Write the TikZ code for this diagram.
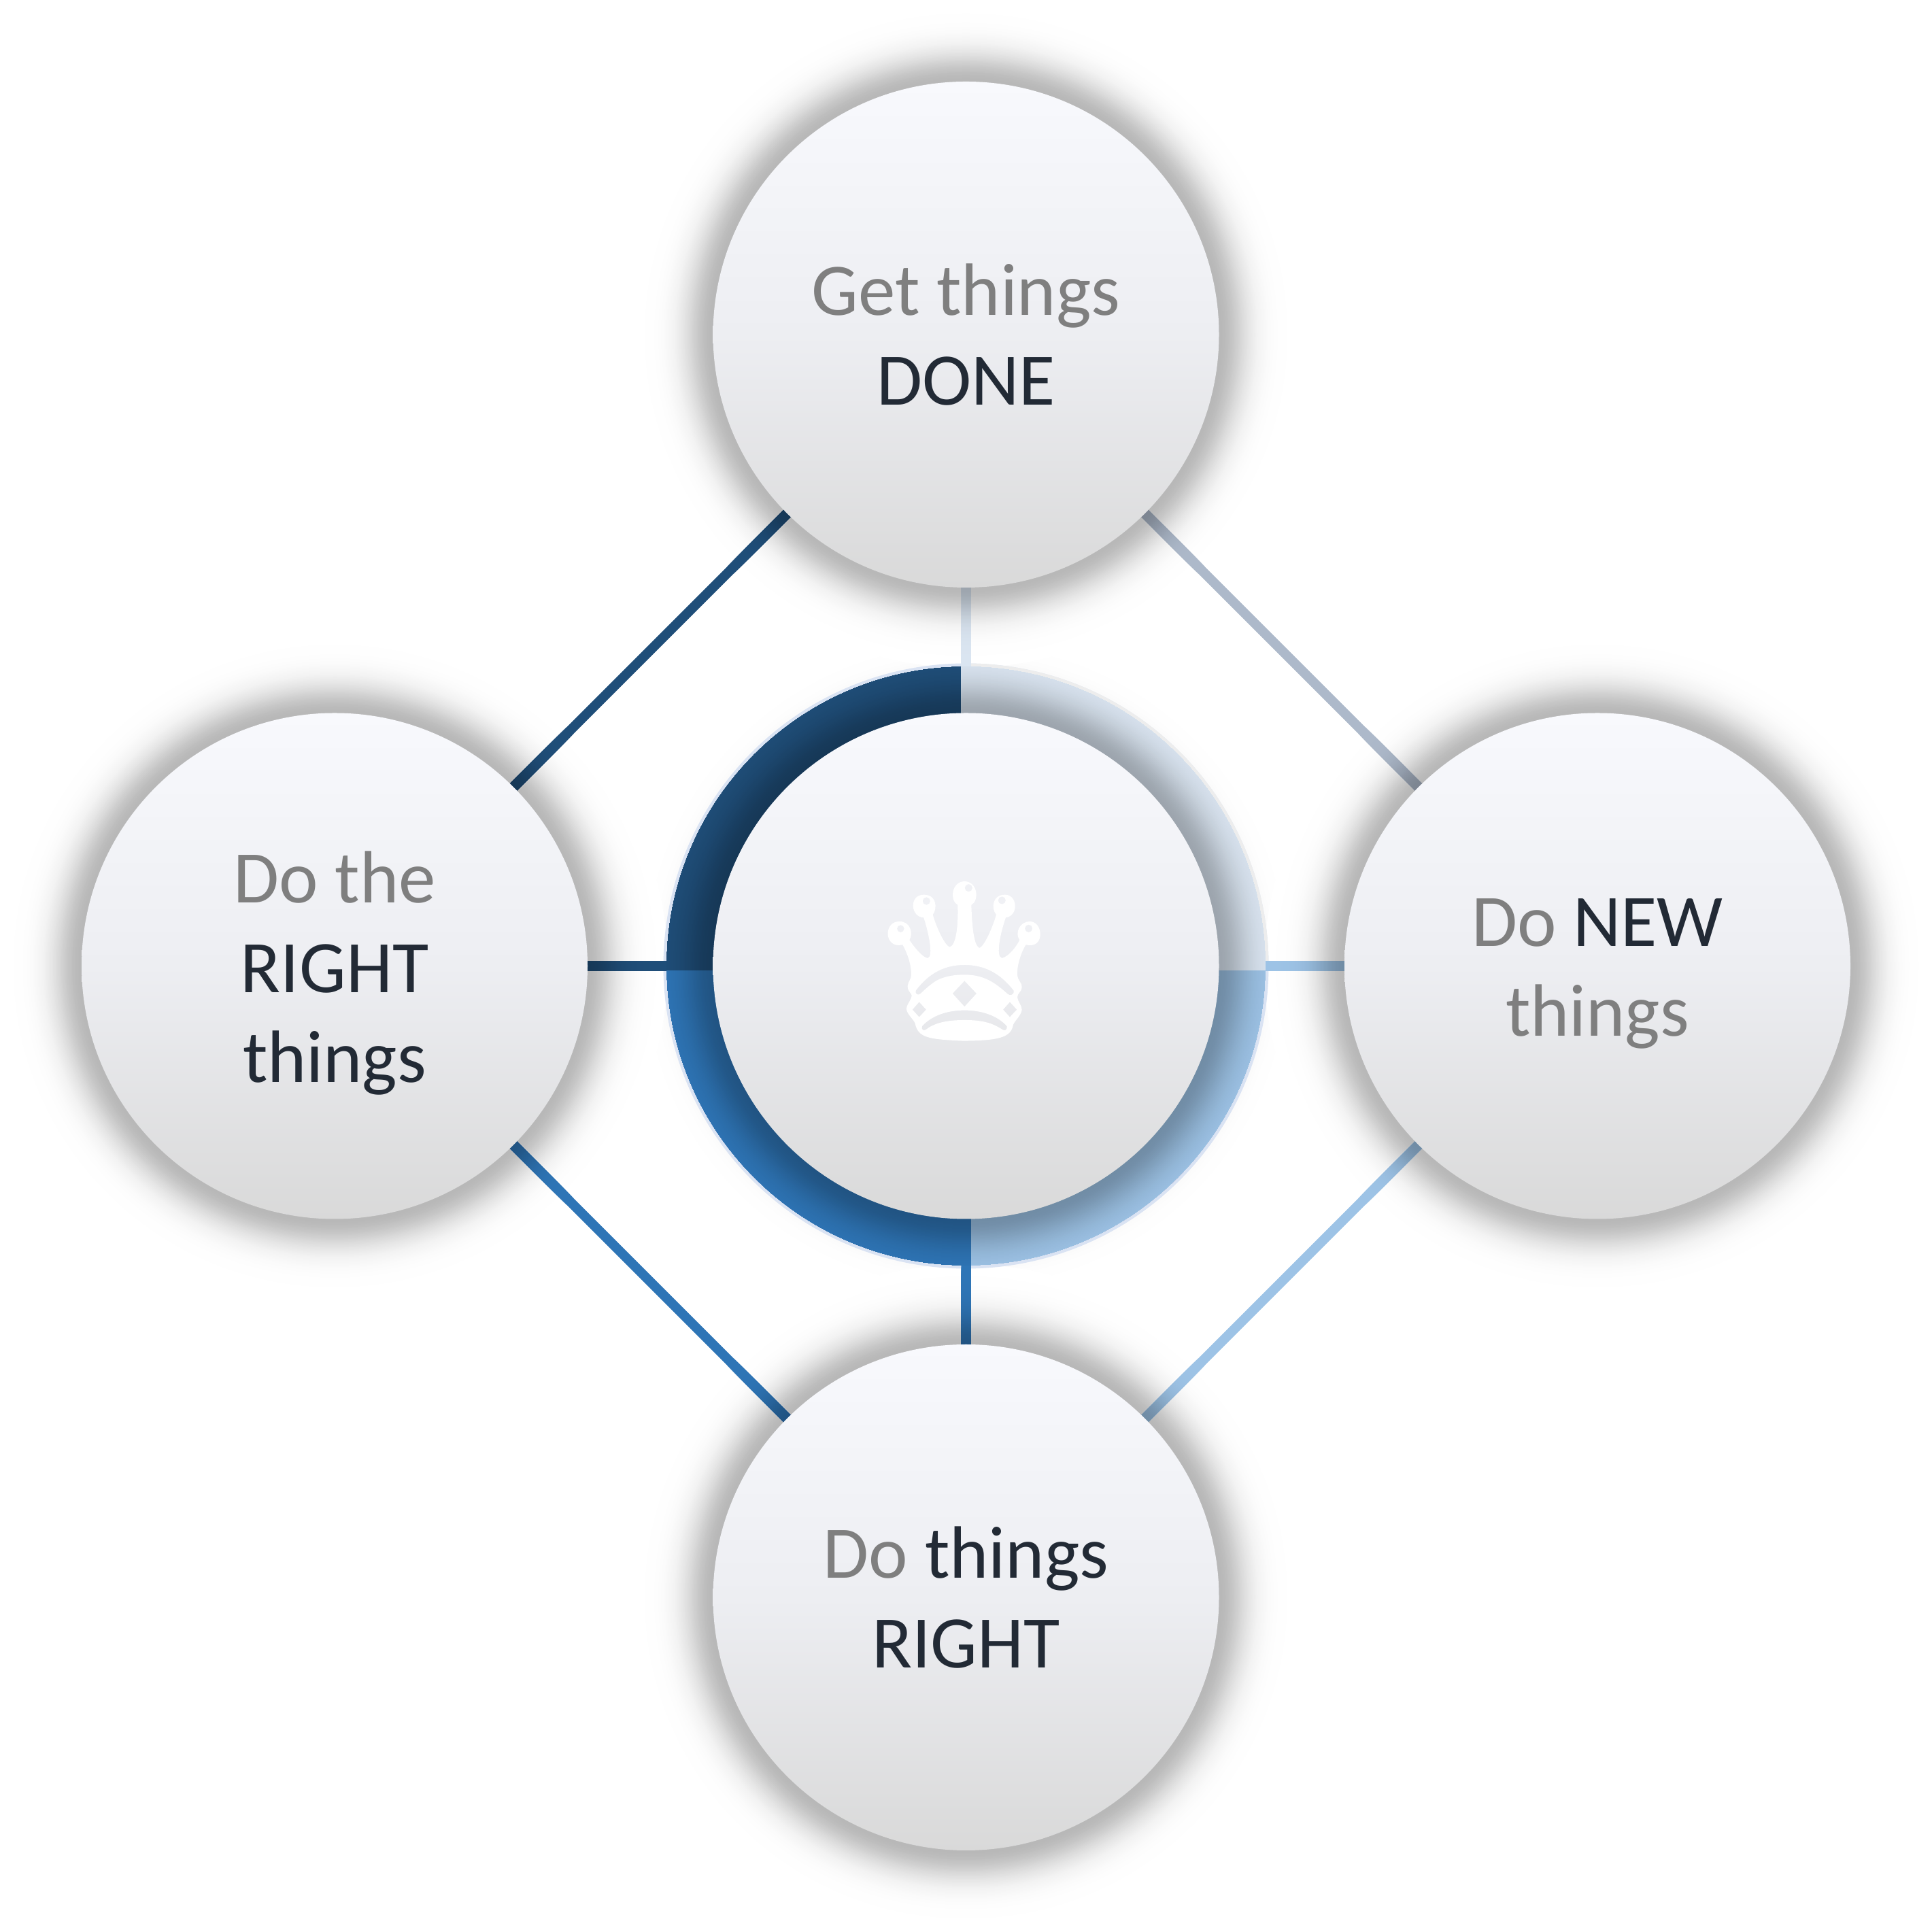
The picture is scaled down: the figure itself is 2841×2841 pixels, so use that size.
\documentclass[tikz,border=0pt]{standalone}
\usepackage{fontspec}
\setmainfont{Carlito}
\usetikzlibrary{calc}
\definecolor{qa}{HTML}{1F4E79}
\definecolor{qb}{HTML}{DAE5F1}
\definecolor{qc}{HTML}{2E75B6}
\definecolor{qd}{HTML}{9DC3E6}
\definecolor{diagb}{HTML}{ADB9CA}
\definecolor{rimc}{HTML}{DAE3F3}
\definecolor{rimb}{HTML}{EDEDED}
\definecolor{gtxt}{HTML}{7F7F7F}
\definecolor{dtxt}{HTML}{222A35}
\definecolor{ctop}{HTML}{F8F9FD}
\definecolor{cmid}{HTML}{EDEEF2}
\definecolor{cbot}{HTML}{D9D9D9}
\newcommand{\softshadow}[2]{%
 \foreach \rad in {490,488,...,366}{%
  \pgfmathsetmacro\pct{100-28*exp(-((\rad-372)/44)^2)}%
  \fill[#1!\pct!black] (#2) circle[radius=\rad];}}
% connector in colour #1 from #2 to #3, darkened by the shadows of the nodes #4
\newcommand{\castline}[4]{%
 \draw[conn,#1] (#2) -- (#3);
 \begin{scope}
  \coordinate (ea) at ($(#2)!-5pt!(#3)$);
  \coordinate (eb) at ($(#3)!-5pt!(#2)$);
  \clip ($(ea)!7pt!90:(eb)$) -- ($(ea)!7pt!-90:(eb)$)
     -- ($(eb)!7pt!90:(ea)$) -- ($(eb)!7pt!-90:(ea)$) -- cycle;
  \foreach \cname in {#4}{\softshadow{#1}{\cname.center}}
 \end{scope}}
\pgfdeclarelayer{shadowL}
\pgfdeclarelayer{lineL}
\pgfdeclarelayer{ringL}
\pgfsetlayers{shadowL,lineL,ringL,main}
\tikzset{
 disc/.style={circle,minimum size=744pt,inner sep=0pt,outer sep=0pt,
   top color=ctop,bottom color=cbot,middle color=cmid,
   align=center,text=gtxt,font=\fontsize{109}{132}\selectfont},
 conn/.style={line width=14pt,line cap=butt},
}
\newcommand{\dk}[1]{\textcolor{dtxt}{#1}}
\begin{document}
\begin{tikzpicture}[x=1pt,y=1pt]
\useasboundingbox (0,0) rectangle (2841,2841);
\node[disc] (top) at (1420.5,2349) {Get things\\\dk{DONE}};
\node[disc] (left) at (492,1420.5) {\rule{0pt}{96pt}Do the\\\dk{RIGHT}\\\dk{things}};
\node[disc] (right) at (2349,1420.5) {\rule{0pt}{92pt}Do \dk{NEW}\\things};
\node[disc] (bottom) at (1420.5,492) {Do \dk{things}\\\dk{RIGHT}};
\node[disc] (hub) at (1420.5,1420.5) {};
\begin{pgfonlayer}{shadowL}
 \fill[white] (0,0) rectangle (2841,2841);
 \softshadow{white}{hub.center}
 \softshadow{white}{top.center}
 \softshadow{white}{left.center}
 \softshadow{white}{right.center}
 \softshadow{white}{bottom.center}
\end{pgfonlayer}
\begin{pgfonlayer}{lineL}
 \castline{qa}{top.225}{left.45}{top,left}
 \castline{diagb}{top.315}{right.135}{top,right}
 \castline{qd}{right.225}{bottom.45}{right,bottom}
 \castline{qc}{left.315}{bottom.135}{left,bottom}
 \coordinate (hubc) at (hub.center);
 \fill[rimc] (hubc) circle[radius=445];
 \begin{scope}
  \clip (1413.5,1427.5) rectangle (2000,2000);
  \fill[rimb] (hubc) circle[radius=445];
 \end{scope}
 \castline{qb}{top.south}{hub.north}{top}
 \castline{qd}{right.west}{hub.east}{right}
 \castline{qc}{bottom.north}{hub.south}{bottom}
 \castline{qa}{left.east}{hub.west}{left}
\end{pgfonlayer}
\begin{pgfonlayer}{ringL}
 \begin{scope}
  \clip (800,1413.5) rectangle (1413.5,2000);
  \clip (hubc) circle[radius=440];
  \softshadow{qa}{hub.center}
 \end{scope}
 \begin{scope}
  \clip (1413.5,1413.5) rectangle (2000,2000);
  \clip (hubc) circle[radius=440];
  \softshadow{qb}{hub.center}
 \end{scope}
 \begin{scope}
  \clip (1427.5,800) rectangle (2000,1413.5);
  \clip (hubc) circle[radius=440];
  \softshadow{qd}{hub.center}
 \end{scope}
 \begin{scope}
  \clip (800,800) rectangle (1427.5,1413.5);
  \clip (hubc) circle[radius=440];
  \softshadow{qc}{hub.center}
 \end{scope}
\end{pgfonlayer}
\begin{scope}[shift={(1250,1591)},x=0.3333pt,y=-0.3333pt]
\fill[white,even odd rule]
 (475,242) .. controls (440,225) and (445,140) .. (505,138)
 .. controls (565,140) and (570,225) .. (535,242)
 .. controls (538,330) and (545,420) .. (570,432)
 .. controls (590,430) and (630,340) .. (645,285)
 .. controls (620,255) and (630,197) .. (683,197)
 .. controls (740,197) and (745,290) .. (687,298)
 .. controls (665,360) and (640,470) .. (670,477)
 .. controls (700,470) and (735,425) .. (748,397)
 .. controls (725,365) and (750,315) .. (793,315)
 .. controls (850,315) and (860,425) .. (790,420)
 -- (775,418)
 .. controls (750,460) and (735,520) .. (738,550)
 .. controls (740,580) and (760,585) .. (758,605)
 .. controls (755,630) and (738,630) .. (738,650)
 .. controls (740,670) and (758,685) .. (758,705)
 .. controls (755,730) and (725,755) .. (720,770)
 .. controls (710,830) and (650,840) .. (500,842)
 .. controls (350,835) and (300,830) .. (287,765)
 .. controls (280,745) and (250,725) .. (249,700)
 .. controls (250,680) and (272,660) .. (272,640)
 .. controls (265,625) and (253,620) .. (254,600)
 .. controls (256,580) and (270,570) .. (270,550)
 .. controls (270,500) and (250,450) .. (232,418)
 -- (215,420)
 .. controls (150,420) and (150,315) .. (218,315)
 .. controls (265,315) and (280,365) .. (262,397)
 .. controls (280,425) and (320,475) .. (343,477)
 .. controls (370,470) and (345,360) .. (325,298)
 .. controls (265,295) and (260,197) .. (325,197)
 .. controls (385,197) and (385,260) .. (365,285)
 .. controls (380,340) and (420,425) .. (440,428)
 .. controls (470,420) and (478,320) .. (475,242) -- cycle
 (223,347) circle[radius=16]
 (337,225) circle[radius=17]
 (523,167) circle[radius=17]
 (670,222) circle[radius=17]
 (788,346) circle[radius=17]
 (505,577) -- (558,633) -- (505,691) -- (452,633) -- cycle
 (305,670) -- (336,704) -- (305,737) -- (275,704) -- cycle
 (705,670) -- (736,704) -- (705,737) -- (675,704) -- cycle
 (290,620) .. controls (350,540) and (420,507) .. (505,507)
 .. controls (590,507) and (660,540) .. (722,620)
 .. controls (725,640) and (705,645) .. (695,635)
 .. controls (640,585) and (590,550) .. (505,550)
 .. controls (430,550) and (390,570) .. (375,580)
 .. controls (350,597) and (330,615) .. (313,632)
 .. controls (300,645) and (285,635) .. (290,620) -- cycle
 (318,777) .. controls (360,730) and (430,707) .. (505,707)
 .. controls (580,707) and (650,730) .. (692,777)
 .. controls (695,795) and (680,800) .. (672,792)
 .. controls (630,765) and (590,750) .. (505,750)
 .. controls (420,750) and (370,765) .. (335,792)
 .. controls (325,800) and (312,792) .. (318,777) -- cycle;
\end{scope}
\end{tikzpicture}
\end{document}
